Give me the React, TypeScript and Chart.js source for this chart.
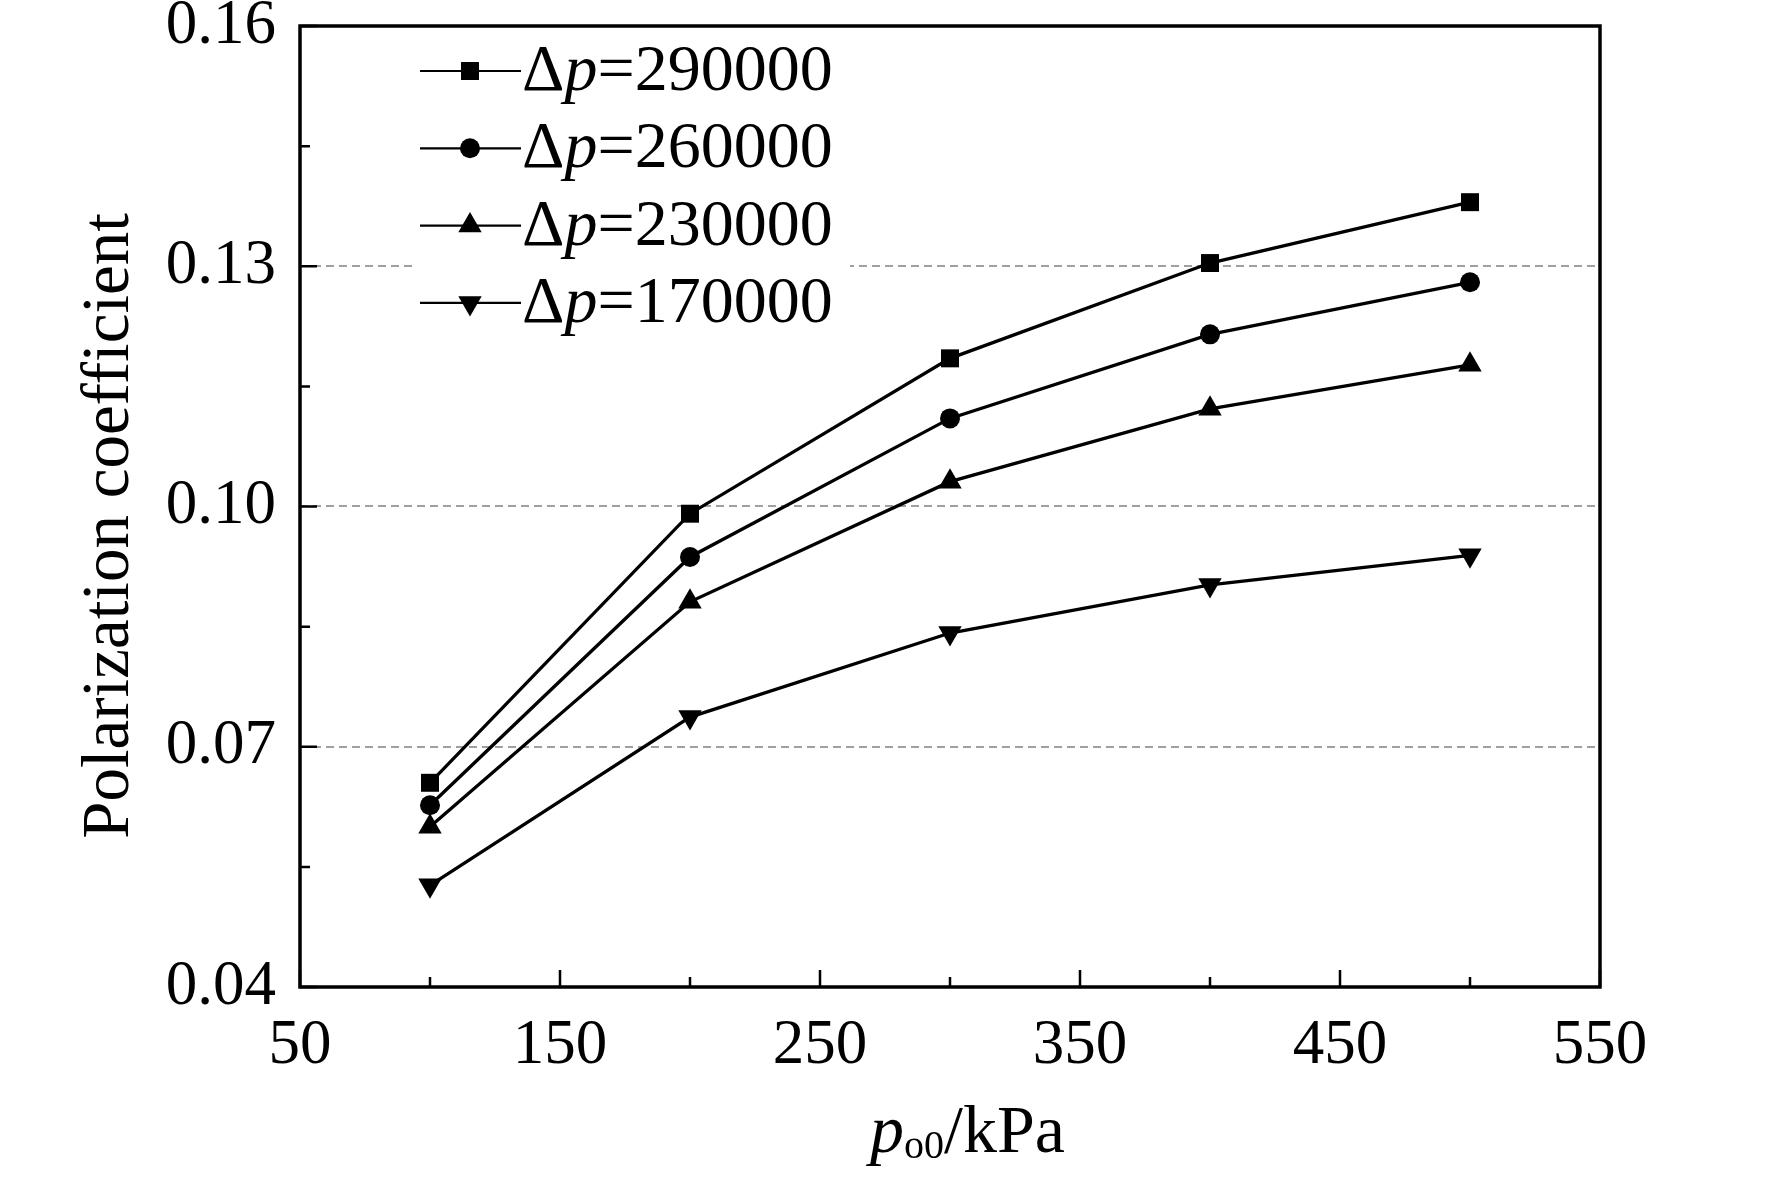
import React, { useEffect, useRef } from "react";
import { Chart, registerables } from "chart.js";

Chart.register(...registerables);

// data
const pressures = [100, 200, 300, 400, 500]; // p_o0 / kPa
const seriesNames = ["290000", "260000", "230000", "170000"];
const dp290000 = [0.0655, 0.0991, 0.1185, 0.1304, 0.138];
const dp260000 = [0.0627, 0.0937, 0.111, 0.1215, 0.128];
const dp230000 = [0.06, 0.0881, 0.1031, 0.1122, 0.1177];
const dp170000 = [0.0527, 0.0737, 0.0842, 0.0902, 0.0939];

// ticks
const xMajorTicks = [50, 150, 250, 350, 450, 550];
const xMinorTicks = [100, 200, 300, 400, 500];
const yMajorTicks = [0.04, 0.07, 0.1, 0.13, 0.16];
const yMinorTicks = [0.055, 0.085, 0.115, 0.145];
const yGridTicks = [0.07, 0.1, 0.13];

const FONT = '"Liberation Serif", "Times New Roman", serif';

const pointStyles = ["rect", "circle", "triangle", "triangle"];
const pointRotations = [0, 0, 0, 180];
const pointRadii = [12.7, 10, 13.5, 13.5];

function drawMarker(ctx: CanvasRenderingContext2D, i: number, x: number, y: number) {
    const r = pointRadii[i];
    const style = pointStyles[i];
    ctx.beginPath();
    if (style === "rect") {
        const s = r * Math.SQRT1_2;
        ctx.rect(x - s, y - s, 2 * s, 2 * s);
    } else if (style === "circle") {
        ctx.arc(x, y, r, 0, Math.PI * 2);
    } else {
        let rad = (pointRotations[i] * Math.PI) / 180;
        ctx.moveTo(x + Math.sin(rad) * r, y - Math.cos(rad) * r);
        rad += (2 * Math.PI) / 3;
        ctx.lineTo(x + Math.sin(rad) * r, y - Math.cos(rad) * r);
        rad += (2 * Math.PI) / 3;
        ctx.lineTo(x + Math.sin(rad) * r, y - Math.cos(rad) * r);
        ctx.closePath();
    }
    ctx.fill();
}

// frame, inward ticks, axis titles and legend
const decorations = {
    id: "decorations",
    afterDraw(chart: any) {
        const ctx: CanvasRenderingContext2D = chart.ctx;
        const { left, right, top, bottom } = chart.chartArea;
        const xs = chart.scales.x;
        const ys = chart.scales.y;
        ctx.save();
        ctx.strokeStyle = "#000";
        ctx.fillStyle = "#000";

        // ticks pointing inward
        ctx.lineWidth = 2.5;
        ctx.beginPath();
        xMajorTicks.forEach((v) => {
            const px = xs.getPixelForValue(v);
            ctx.moveTo(px, bottom);
            ctx.lineTo(px, bottom - 17);
        });
        xMinorTicks.forEach((v) => {
            const px = xs.getPixelForValue(v);
            ctx.moveTo(px, bottom);
            ctx.lineTo(px, bottom - 10);
        });
        yMajorTicks.forEach((v) => {
            const py = ys.getPixelForValue(v);
            ctx.moveTo(left, py);
            ctx.lineTo(left + 17, py);
        });
        yMinorTicks.forEach((v) => {
            const py = ys.getPixelForValue(v);
            ctx.moveTo(left, py);
            ctx.lineTo(left + 10, py);
        });
        ctx.stroke();

        // frame
        ctx.lineWidth = 3.5;
        ctx.strokeRect(left, top, right - left, bottom - top);

        // legend
        ctx.fillStyle = "#fff";
        ctx.fillRect(415, 36, 435, 304);
        seriesNames.forEach((name, i) => {
            const cy = 71 + i * 77.3;
            ctx.strokeStyle = "#000";
            ctx.fillStyle = "#000";
            ctx.lineWidth = 2.2;
            ctx.beginPath();
            ctx.moveTo(420, cy);
            ctx.lineTo(521, cy);
            ctx.stroke();
            drawMarker(ctx, i, 470, cy);
            ctx.textBaseline = "alphabetic";
            ctx.textAlign = "left";
            let tx = 522;
            const base = cy + 19;
            ctx.font = `66px ${FONT}`;
            ctx.fillText("\u0394", tx, base);
            tx += ctx.measureText("\u0394").width;
            ctx.font = `italic 66px ${FONT}`;
            ctx.fillText("p", tx, base);
            tx += ctx.measureText("p").width;
            ctx.font = `66px ${FONT}`;
            ctx.fillText("=" + name, tx, base);
        });

        // x axis title
        ctx.fillStyle = "#000";
        ctx.textAlign = "left";
        ctx.textBaseline = "alphabetic";
        let tx = 870;
        ctx.font = `italic 68px ${FONT}`;
        ctx.fillText("p", tx, 1152);
        tx += ctx.measureText("p").width;
        ctx.font = `40px ${FONT}`;
        ctx.fillText("o0", tx, 1158);
        tx += ctx.measureText("o0").width;
        ctx.font = `68px ${FONT}`;
        ctx.fillText("/kPa", tx, 1152);

        // y axis title
        ctx.save();
        ctx.translate(128, 526);
        ctx.rotate(-Math.PI / 2);
        ctx.textAlign = "center";
        ctx.font = `67px ${FONT}`;
        ctx.fillText("Polarization coefficient", 0, 0);
        ctx.restore();

        ctx.restore();
    },
};

const PolarizationChart: React.FC = () => {
    const canvasRef = useRef<HTMLCanvasElement | null>(null);
    const chartInstance = useRef<Chart | null>(null);

    useEffect(() => {
        document.body.style.margin = "0";
        if (!canvasRef.current) return;
        if (chartInstance.current) chartInstance.current.destroy();

        const seriesValues = [dp290000, dp260000, dp230000, dp170000];

        chartInstance.current = new Chart(canvasRef.current, {
            type: "line",
            data: {
                datasets: seriesValues.map((vals, i) => ({
                    label: "\u0394p=" + seriesNames[i],
                    data: pressures.map((p, j) => ({ x: p, y: vals[j] })),
                    borderColor: "#000",
                    backgroundColor: "#000",
                    borderWidth: 3.3,
                    tension: 0,
                    pointStyle: pointStyles[i] as any,
                    rotation: pointRotations[i],
                    pointRadius: pointRadii[i],
                    pointBorderWidth: 0,
                    pointBackgroundColor: "#000",
                })),
            },
            options: {
                animation: false,
                responsive: true,
                maintainAspectRatio: false,
                layout: { padding: { left: 0, right: 172, top: 26, bottom: 0 } },
                plugins: {
                    legend: { display: false },
                    tooltip: { enabled: false },
                },
                scales: {
                    x: {
                        type: "linear",
                        min: 50,
                        max: 550,
                        afterBuildTicks: (scale: any) => {
                            scale.ticks = xMajorTicks.map((v) => ({ value: v }));
                        },
                        afterFit: (scale: any) => {
                            scale.height = 198;
                            scale.paddingLeft = 0;
                            scale.paddingRight = 0;
                        },
                        grid: { display: false, drawTicks: false },
                        border: { display: false },
                        ticks: {
                            padding: 22,
                            color: "#000",
                            maxRotation: 0,
                            font: { family: FONT, size: 63 },
                            callback: (v: any) => String(v),
                        },
                    },
                    y: {
                        type: "linear",
                        min: 0.04,
                        max: 0.16,
                        afterBuildTicks: (scale: any) => {
                            scale.ticks = yMajorTicks.map((v) => ({ value: v }));
                        },
                        afterFit: (scale: any) => {
                            scale.width = 300;
                            scale.paddingTop = 0;
                            scale.paddingBottom = 0;
                        },
                        grid: {
                            drawTicks: false,
                            lineWidth: 2,
                            color: (c: any) =>
                                yGridTicks.some((g) => Math.abs(g - c.tick?.value) < 1e-9)
                                    ? "#a0a0a0"
                                    : "rgba(0,0,0,0)",
                        },
                        border: { display: false, dash: [8, 5] },
                        ticks: {
                            padding: 24,
                            color: "#000",
                            font: { family: FONT, size: 63 },
                            callback: (v: any) => Number(v).toFixed(2),
                        },
                    },
                },
            },
            plugins: [decorations],
        });

        return () => {
            if (chartInstance.current) {
                chartInstance.current.destroy();
                chartInstance.current = null;
            }
        };
    }, []);

    return (
        <div style={{ position: "relative", width: "1772px", height: "1185px", background: "#fff" }}>
            <canvas ref={canvasRef} />
        </div>
    );
};

export default function App() {
    return <PolarizationChart />;
}
